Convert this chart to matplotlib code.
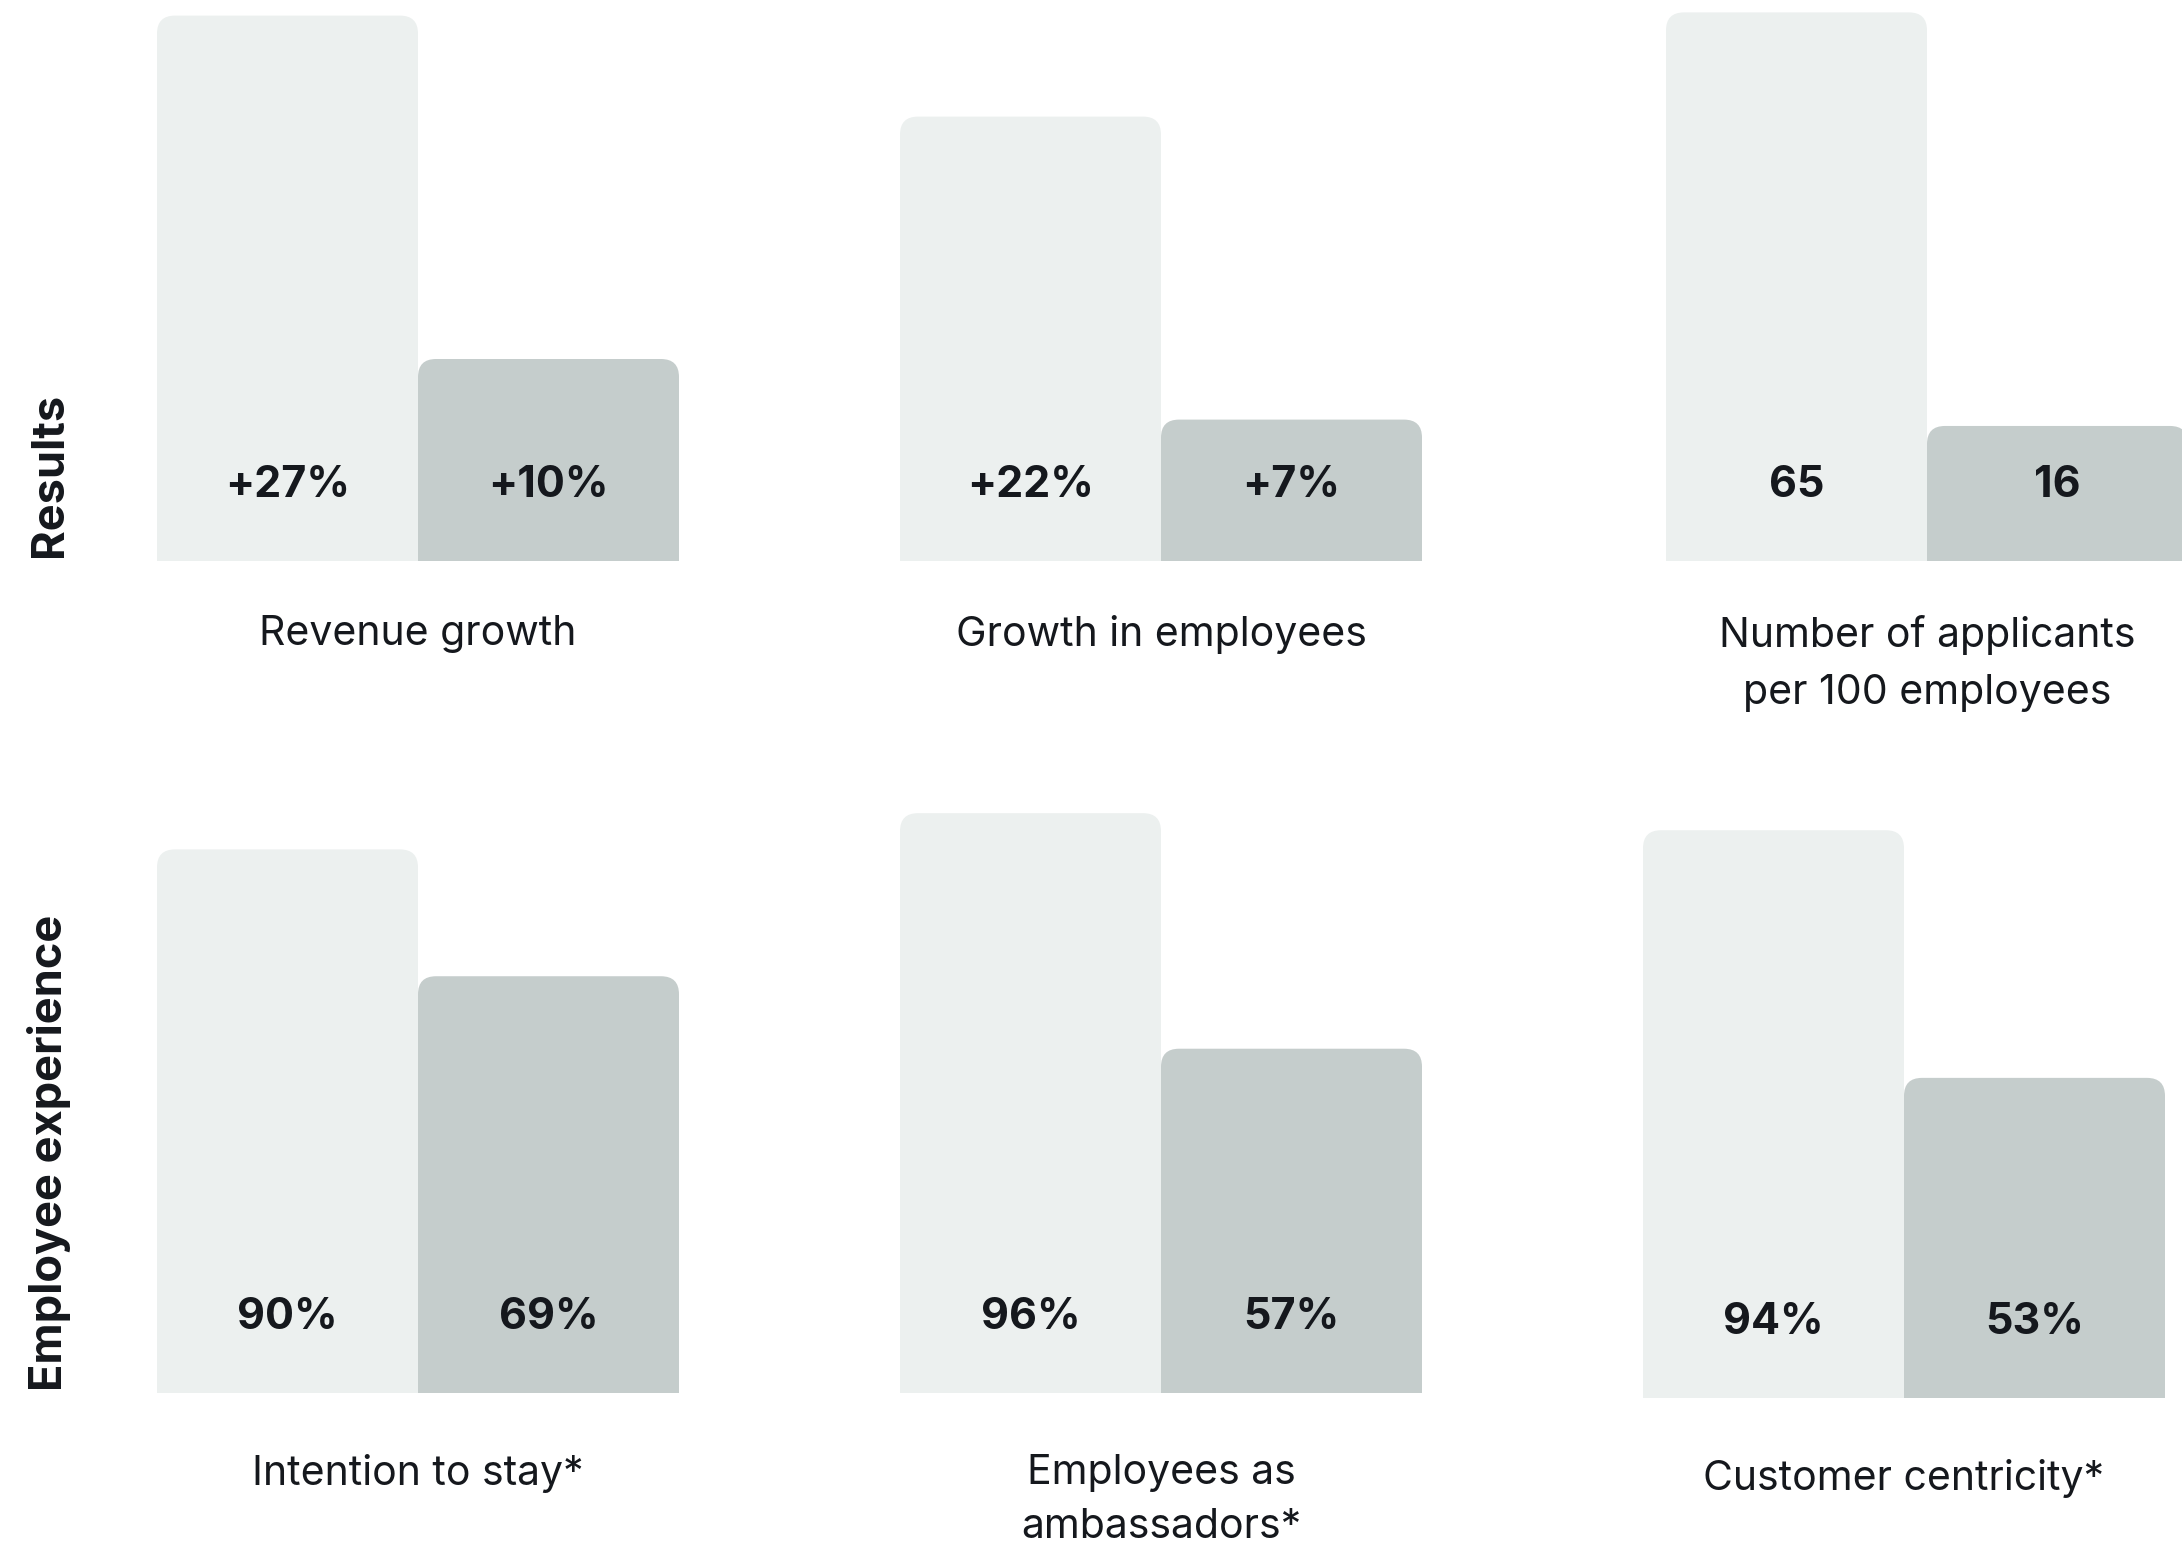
import matplotlib
matplotlib.use("Agg")
import matplotlib.pyplot as plt
from matplotlib.patches import FancyBboxPatch

# ---------------- data ----------------
row_titles = ["Results", "Employee experience"]

top_categories = ["Revenue growth", "Growth in employees", "Number of applicants\nper 100 employees"]
top_light = [27, 22, 65]
top_dark = [10, 7, 16]
top_light_labels = ["+27%", "+22%", "65"]
top_dark_labels = ["+10%", "+7%", "16"]

bottom_categories = ["Intention to stay*", "Employees as\nambassadors*", "Customer centricity*"]
bottom_light = [90, 96, 94]
bottom_dark = [69, 57, 53]
bottom_light_labels = ["90%", "96%", "94%"]
bottom_dark_labels = ["69%", "57%", "53%"]

# ---------------- style ----------------
LIGHT = "#ECF0EF"
DARK = "#C5CDCC"
TEXT = "#15181D"
FONT = ["Inter", "DejaVu Sans"]
plt.rcParams["font.family"] = FONT

FW, FH = 2182, 1544
DPI = 100
fig = plt.figure(figsize=(FW / DPI, FH / DPI), dpi=DPI)
fig.patch.set_facecolor("white")

BAR_W_PX = 261
RADIUS_PX = 18
PX2PT = 72 / DPI

# panel layout (pixels): left edge, baseline y, top y of axes, px per data unit,
# category label offset, category line spacing
top_panels = [(157, 561, 0, 20.2, 54, 1.62), (900, 561, 0, 20.2, 54, 1.62),
              (1666, 561, 0, 8.44, 54, 1.62)]
bottom_panels = [(157, 1393, 760, 6.04, 61, 1.52), (900, 1393, 760, 6.04, 61, 1.52),
                 (1643, 1398, 760, 6.04, 61, 1.52)]


def draw_panel(layout, vals, labels, category):
    left, base, top, scale, lab_off, ls = layout
    ax = fig.add_axes([left / FW, 1 - base / FH, 2 * BAR_W_PX / FW, (base - top) / FH])
    ax.set_xlim(-0.5, 1.5)
    ax.set_ylim(0, (base - top) / scale)
    ax.axis("off")
    x_per_px = 2.0 / (2 * BAR_W_PX)
    y_per_px = 1.0 / scale
    r = RADIUS_PX * x_per_px
    aspect = y_per_px / x_per_px
    ext = 2 * RADIUS_PX * y_per_px
    for i, (v, c) in enumerate(zip(vals, [LIGHT, DARK])):
        p = FancyBboxPatch((i - 0.5, -ext), 1.0, v + ext,
                           boxstyle=f"round,pad=0,rounding_size={r}",
                           mutation_aspect=aspect, facecolor=c, edgecolor="none",
                           linewidth=0)
        ax.add_patch(p)
        ax.annotate(labels[i], xy=(i, 0), xytext=(0, 64 * PX2PT), textcoords="offset points",
                    ha="center", va="baseline", fontsize=31, fontweight="bold", color=TEXT)
    ax.annotate(category, xy=(0.5, 0), xycoords="axes fraction",
                xytext=(0, -lab_off * PX2PT), textcoords="offset points",
                ha="center", va="top", fontsize=29.5, color=TEXT, linespacing=ls)
    return ax


for layout, a, b, la, lb, cat in zip(top_panels, top_light, top_dark,
                                     top_light_labels, top_dark_labels, top_categories):
    draw_panel(layout, [a, b], [la, lb], cat)

for layout, a, b, la, lb, cat in zip(bottom_panels, bottom_light, bottom_dark,
                                     bottom_light_labels, bottom_dark_labels, bottom_categories):
    draw_panel(layout, [a, b], [la, lb], cat)

# row titles (rotated, anchored near bar baseline)
for title, base in zip(row_titles, [557, 1391]):
    fig.text(62 / FW, 1 - base / FH, title, rotation=90, rotation_mode="anchor",
             ha="left", va="baseline", fontsize=32.5, fontweight="bold", color=TEXT)

fig.savefig("out.png", dpi=DPI, facecolor="white")
